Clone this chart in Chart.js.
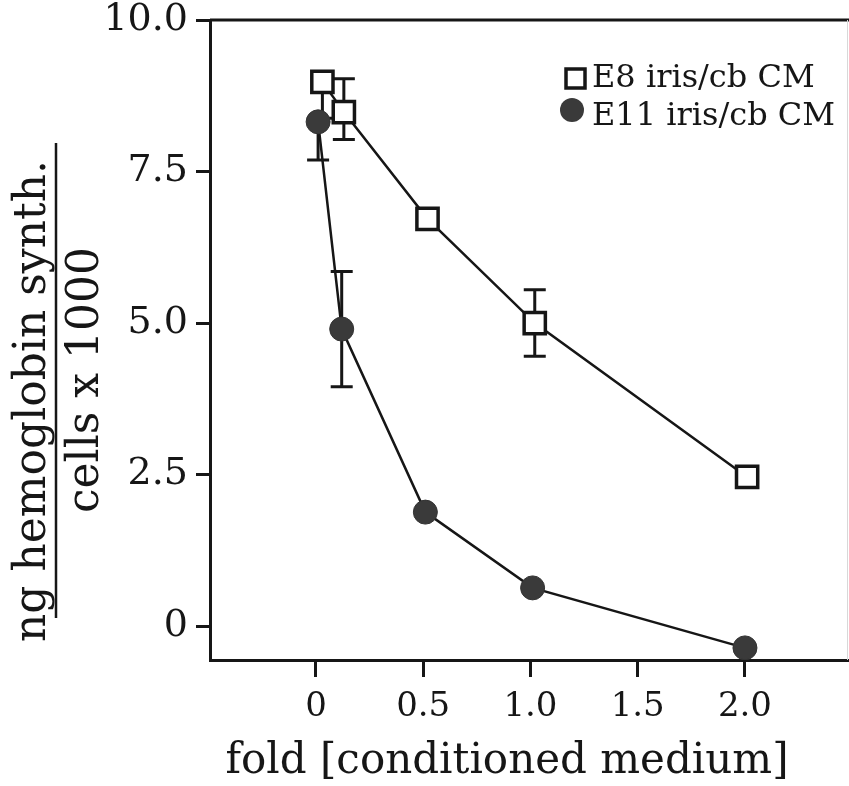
<!DOCTYPE html>
<html>
<head>
<meta charset="utf-8">
<script src="https://cdn.jsdelivr.net/npm/chart.js@4.4.0/dist/chart.umd.min.js"></script>
<style>
  body { margin: 0; background: #fff; }
  canvas { display: block; }
</style>
</head>
<body>
<canvas id="myChart" width="849" height="786"></canvas>
<script>
// values
const e8X = [0.03, 0.13, 0.52, 1.02, 2.01];
const e8Y = [8.98, 8.48, 6.72, 5.0, 2.46];
const e8ErrUp = [0, 0.55, 0, 0.55, 0];
const e8ErrDown = [0.6, 0.45, 0, 0.55, 0];

const e11X = [0.01, 0.12, 0.51, 1.01, 2.0];
const e11Y = [8.32, 4.9, 1.88, 0.63, -0.36];
const e11ErrUp = [0, 0.95, 0, 0, 0];
const e11ErrDown = [0.63, 0.95, 0, 0, 0];

const xTicks = [0, 0.5, 1, 1.5, 2];
const xTickLabels = ['0', '0.5', '1.0', '1.5', '2.0'];
const yTicks = [0, 2.5, 5, 7.5, 10];
const yTickLabels = ['0', '2.5', '5.0', '7.5', '10.0'];

const seriesNames = ['E8 iris/cb CM', 'E11 iris/cb CM'];
const xTitle = 'fold [conditioned medium]';
const yTitleTop = 'ng hemoglobin synth.';
const yTitleBottom = 'cells x 1000';

const ink = '#161616';
const serif = "'DejaVu Serif', serif";

function toPoints(xs, ys) {
  return xs.map((x, i) => ({ x: x, y: ys[i] }));
}

// error bars, drawn under the markers
const errorBars = {
  id: 'errorBars',
  beforeDatasetsDraw(chart) {
    const ctx = chart.ctx;
    const xs = chart.scales.x, ys = chart.scales.y;
    chart.data.datasets.forEach(ds => {
      ds.data.forEach((p, i) => {
        const up = ds.errUp[i], down = ds.errDown[i];
        if (!up && !down) return;
        const px = xs.getPixelForValue(p.x);
        const yTop = ys.getPixelForValue(p.y + up);
        const yBot = ys.getPixelForValue(p.y - down);
        ctx.save();
        ctx.strokeStyle = ink;
        ctx.lineWidth = 3;
        ctx.beginPath();
        ctx.moveTo(px, yTop); ctx.lineTo(px, yBot);
        if (up) { ctx.moveTo(px - 11, yTop); ctx.lineTo(px + 11, yTop); }
        if (down) { ctx.moveTo(px - 11, yBot); ctx.lineTo(px + 11, yBot); }
        ctx.stroke();
        ctx.restore();
      });
    });
  }
};

// frame, legend and axis titles
const decorations = {
  id: 'decorations',
  afterDraw(chart) {
    const ctx = chart.ctx;
    const a = chart.chartArea;
    ctx.save();
    ctx.strokeStyle = ink;
    ctx.lineWidth = 3;
    ctx.beginPath();
    ctx.moveTo(a.left, a.top); ctx.lineTo(a.right, a.top);
    ctx.stroke();
    ctx.strokeStyle = '#d8d8d8';
    ctx.lineWidth = 1;
    ctx.beginPath();
    ctx.moveTo(a.right - 1.5, a.top); ctx.lineTo(a.right - 1.5, a.bottom);
    ctx.stroke();

    // legend
    const lx = a.right - 274;
    ctx.fillStyle = '#fff';
    ctx.strokeStyle = ink;
    ctx.lineWidth = 3.5;
    ctx.fillRect(lx - 9, a.top + 49, 19, 19);
    ctx.strokeRect(lx - 9, a.top + 49, 19, 19);
    ctx.fillStyle = '#3a3a3a';
    ctx.beginPath();
    ctx.arc(lx - 3, a.top + 90, 12, 0, Math.PI * 2);
    ctx.fill();
    ctx.fillStyle = ink;
    ctx.font = '32px ' + serif;
    ctx.textAlign = 'left';
    ctx.textBaseline = 'alphabetic';
    ctx.fillText(seriesNames[0], lx + 17, a.top + 67);
    ctx.fillText(seriesNames[1], lx + 17, a.top + 105);

    // x title
    ctx.font = '42px ' + serif;
    ctx.textAlign = 'center';
    ctx.fillText(xTitle, a.left + 297, a.bottom + 113);

    // y title as a fraction
    ctx.font = '44px ' + serif;
    ctx.save();
    ctx.translate(45, a.top + 381);
    ctx.rotate(-Math.PI / 2);
    ctx.fillText(yTitleTop, 0, 0);
    ctx.restore();
    ctx.save();
    ctx.translate(98, a.top + 360);
    ctx.rotate(-Math.PI / 2);
    ctx.fillText(yTitleBottom, 0, 0);
    ctx.restore();
    ctx.lineWidth = 2.5;
    ctx.beginPath();
    ctx.moveTo(56, a.top + 123); ctx.lineTo(56, a.top + 598);
    ctx.stroke();
    ctx.restore();
  }
};

const ctx = document.getElementById('myChart').getContext('2d');
new Chart(ctx, {
  type: 'line',
  data: {
    datasets: [
      {
        label: seriesNames[0],
        data: toPoints(e8X, e8Y),
        errUp: e8ErrUp,
        errDown: e8ErrDown,
        borderColor: ink,
        borderWidth: 2.5,
        pointStyle: 'rect',
        pointRadius: 15,
        pointBorderWidth: 3.5,
        pointBackgroundColor: '#fff',
        pointBorderColor: ink,
        order: 2
      },
      {
        label: seriesNames[1],
        data: toPoints(e11X, e11Y),
        errUp: e11ErrUp,
        errDown: e11ErrDown,
        borderColor: ink,
        borderWidth: 2.5,
        pointStyle: 'circle',
        pointRadius: 12,
        pointBorderWidth: 1,
        pointBackgroundColor: '#3a3a3a',
        pointBorderColor: '#333',
        order: 1
      }
    ]
  },
  options: {
    responsive: false,
    animation: false,
    devicePixelRatio: 1,
    layout: { autoPadding: false, padding: { left: 0, top: 20, right: 0, bottom: 0 } },
    plugins: {
      legend: { display: false },
      tooltip: { enabled: false }
    },
    scales: {
      x: {
        type: 'linear',
        min: -0.494,
        max: 2.485,
        afterBuildTicks: s => { s.ticks = xTicks.map(v => ({ value: v })); },
        afterFit: s => { s.height = 126; s.paddingLeft = 0; s.paddingRight = 0; },
        grid: { drawOnChartArea: false, tickLength: 17, tickWidth: 3, tickColor: ink },
        border: { display: true, width: 3, color: ink },
        ticks: {
          color: ink,
          padding: 13,
          maxRotation: 0,
          font: { family: serif, size: 34, lineHeight: 1 },
          callback: v => xTickLabels[xTicks.indexOf(v)]
        }
      },
      y: {
        type: 'linear',
        min: -0.56,
        max: 10,
        afterBuildTicks: s => { s.ticks = yTicks.map(v => ({ value: v })); },
        afterFit: s => { s.width = 210; s.paddingTop = 0; s.paddingBottom = 0; },
        grid: { drawOnChartArea: false, tickLength: 14, tickWidth: 3, tickColor: ink },
        border: { display: true, width: 3, color: ink },
        ticks: {
          color: ink,
          padding: 8,
          font: { family: serif, size: 38, lineHeight: 1 },
          callback: v => yTickLabels[yTicks.indexOf(v)]
        }
      }
    }
  },
  plugins: [errorBars, decorations]
});
</script>
</body>
</html>
